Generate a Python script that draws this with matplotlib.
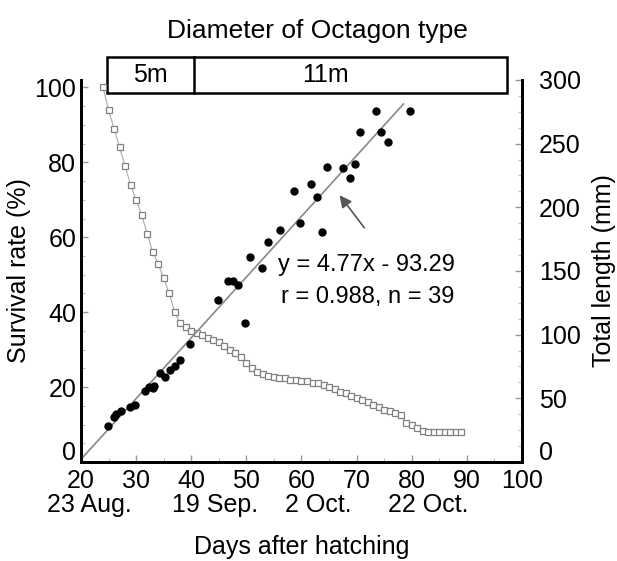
import matplotlib.pyplot as plt
import matplotlib.transforms as mtransforms
from matplotlib.patches import Rectangle
import numpy as np

plt.rcParams['font.family'] = ['Liberation Sans', 'DejaVu Sans']
plt.rcParams['font.size'] = 18

# Überlebensrate (%) pro Tag nach dem Schlupf
surv_days = list(range(24, 90))
surv_rate = [100, 94, 89, 84, 79, 74, 70, 66, 61, 56,
             53, 49, 45, 40, 37, 36, 35, 34.5, 34, 33,
             32.5, 32, 31, 30, 29, 28, 26.5, 25, 24, 23.5,
             23, 22.7, 22.5, 22.3, 22, 22, 21.7, 21.5, 21.2, 21,
             20.5, 20, 19.5, 18.8, 18.3, 17.7, 17, 16.5, 16, 15.3,
             14.7, 14, 13.5, 13, 12.5, 10.5, 10, 9, 8.3, 8,
             8, 8, 8, 8, 8, 8]

# Gesamtlänge (mm), n = 39
len_days = [24.9, 25.9, 26.4, 27.3, 28.9, 29.8, 31.6, 32.3, 33.0, 34.3,
            35.2, 36.1, 37.1, 38.0, 39.8, 44.9, 46.7, 47.6, 48.5, 49.8,
            50.7, 52.8, 53.9, 56.1, 58.6, 59.7, 61.7, 62.8, 63.8, 64.7,
            67.6, 68.8, 69.7, 70.7, 73.6, 74.5, 75.7, 79.7, 33.3]
len_mm = [28, 35, 38, 40, 43, 45, 56, 59, 58, 70,
          67, 72, 75, 80, 93, 127, 142, 142, 139, 109,
          161, 152, 173, 182, 213, 188, 218, 208, 181, 232,
          231, 223, 234, 259, 276, 259, 251, 276, 60]

# Regressionsgerade
slope, intercept = 4.77, -93.29
fit_x = np.array([20, 78.5])

x_ticks = [20, 30, 40, 50, 60, 70, 80, 90, 100]
date_labels = ['23 Aug.', '19 Sep.', '2 Oct.', '22 Oct.']
date_pos = [21.6, 44.3, 63.0, 83.0]

fig = plt.figure(figsize=(6.17, 5.61), dpi=100)
ax = fig.add_axes([0.1313, 0.1765, 0.7147, 0.6809])
ax2 = ax.twinx()

ax.plot(surv_days, surv_rate, '-', color='#aaaaaa', lw=0.8)
ax.plot(surv_days, surv_rate, 's', ms=4.5, mfc='white', mec='#808080', mew=0.9)
ax2.plot(fit_x, slope * fit_x + intercept, color='#888888', lw=1.2)
ax2.plot(len_days, len_mm, 'o', ms=5, color='black')

ax.set_xlim(20, 100)
ax.set_ylim(0, 102)
ax2.set_ylim(0, 300)
ax.set_xticks(x_ticks)
ax.set_yticks([0, 20, 40, 60, 80, 100])
ax2.set_yticks([0, 50, 100, 150, 200, 250, 300])
ax.set_xticks(np.arange(20, 101, 5), minor=True)
ax.set_yticks(np.arange(0, 101, 5), minor=True)
ax2.set_yticks(np.arange(0, 301, 12.5), minor=True)

for a in (ax, ax2):
    a.spines['top'].set_visible(False)
    for s in a.spines.values():
        s.set_linewidth(2)
    a.tick_params(direction='in', length=5, width=1, color='#999999')
    a.tick_params(which='minor', direction='in', length=3, width=0.8, color='#bbbbbb')
ax.tick_params(axis='x', pad=5)
ax2.tick_params(axis='y', pad=12)

# die beiden "0" etwas anheben (wie im Original)
lift = mtransforms.ScaledTranslation(0, 8 / 72, fig.dpi_scale_trans)
t0 = ax.yaxis.get_major_ticks()[0].label1
t0.set_transform(t0.get_transform() + lift)
t0 = ax2.yaxis.get_major_ticks()[0].label2
t0.set_transform(t0.get_transform() + lift)

ax.set_ylabel('Survival rate (%)', labelpad=2)
ax2.set_ylabel('Total length (mm)', labelpad=8)
ax.set_xlabel('Days after hatching', labelpad=30)

for label, pos in zip(date_labels, date_pos):
    ax.text(pos, -0.08, label, transform=ax.get_xaxis_transform(),
            ha='center', va='top', fontsize=18)

ax2.text(55.7, 154.7, 'y = 4.77x - 93.29', ha='left', va='center', fontsize=17)
ax2.text(56.2, 129.6, 'r = 0.988, n = 39', ha='left', va='center', fontsize=17)
ax2.annotate('', xy=(66.6, 211.3), xytext=(71.7, 182.2),
             arrowprops=dict(arrowstyle='-|>', color='#555555', lw=1.2))

# Kasten mit Durchmesser des Achteck-Typs
trans = mtransforms.blended_transform_factory(ax.transData, ax.transAxes)
ax.add_patch(Rectangle((24.7, 0.967), 97.2 - 24.7, 0.094, transform=trans,
                       fill=False, lw=1.8, color='black', clip_on=False))
ax.plot([40.5, 40.5], [0.967, 1.061], transform=trans, color='black', lw=1.8, clip_on=False)
ax.text(32.5, 1.014, '5m', transform=trans, ha='center', va='center')
ax.text(64.3, 1.014, '11m', transform=trans, ha='center', va='center')
fig.text(0.515, 0.945, 'Diameter of Octagon type', ha='center', va='center', fontsize=19)

fig.savefig('out.png', dpi=100)
